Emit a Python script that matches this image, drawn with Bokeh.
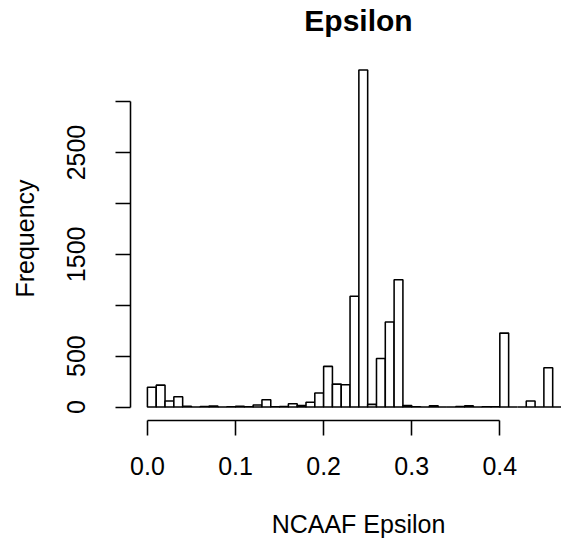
from bokeh.plotting import figure
from bokeh.models import FixedTicker, Range1d, LinearAxis
from bokeh.embed import file_html
from bokeh.resources import INLINE

# ---- data (bin width 0.01) ----
bin_width = 0.01
counts = [195, 215, 60, 100, 8, 0, 5, 10, 0, 3,
          8, 2, 20, 72, 3, 5, 33, 15, 46, 137,
          399, 225, 219, 1088, 3311, 26, 476, 836, 1251, 14,
          2, 0, 13, 0, 0, 4, 11, 0, 3, 2,
          726, 0, 0, 59, 0, 386, 0, 0]
x_ticks = [0.0, 0.1, 0.2, 0.3, 0.4]
x_tick_labels = ["0.0", "0.1", "0.2", "0.3", "0.4"]
y_ticks = [0, 500, 1000, 1500, 2000, 2500, 3000]
y_tick_labels = ["0", "500", "", "1500", "", "2500", ""]
title_text = "Epsilon"
x_label_text = "NCAAF Epsilon"
y_label_text = "Frequency"

lefts = [i * bin_width for i in range(len(counts))]
rights = [(i + 1) * bin_width for i in range(len(counts))]
bottoms = [0] * len(counts)

ymax = max(counts)
ypad = 0.04 * ymax
xmax = rights[-1]
xpad = 0.04 * xmax

FONT = "Liberation Sans"
# R centres titles on its (wider) plotting region; shift ours to match
NBSP = "\u00a0"
EN = "\u2002"

p = figure(width=561, height=540, output_backend="svg", toolbar_location=None,
           x_range=Range1d(-xpad, 0.4700), y_range=Range1d(-ypad, ymax + ypad),
           min_border_left=130, min_border_right=0, min_border_top=56,
           min_border_bottom=118)

p.quad(left=lefts, right=rights, bottom=bottoms, top=counts,
       fill_color="white", line_color="black", line_width=1.56)

p.background_fill_color = "white"
p.border_fill_color = "white"
p.outline_line_color = None
p.grid.visible = False

for ax in (p.xaxis[0], p.yaxis[0]):
    ax.axis_line_width = 1.56
    ax.major_tick_line_width = 1.56
    ax.major_tick_in = 0
    ax.major_tick_out = 15
    ax.minor_tick_line_color = None
    ax.major_label_text_font = FONT
    ax.major_label_text_font_size = "25px"
    ax.major_label_text_color = "black"
    ax.axis_label_text_font = FONT
    ax.axis_label_text_font_size = "25px"
    ax.axis_label_text_font_style = "normal"
    ax.axis_label_text_color = "black"

p.xaxis.bounds = (x_ticks[0], x_ticks[-1])
p.xaxis.ticker = FixedTicker(ticks=x_ticks)
p.xaxis.major_label_overrides = {t: l for t, l in zip(x_ticks, x_tick_labels)}
p.xaxis.major_label_standoff = 21
p.xaxis.axis_label = EN + EN + x_label_text
p.xaxis.axis_label_standoff = 32

p.yaxis.bounds = (y_ticks[0], y_ticks[-1])
p.yaxis.ticker = FixedTicker(ticks=y_ticks)
p.yaxis.major_label_overrides = {t: l for t, l in zip(y_ticks, y_tick_labels)}
p.yaxis.major_label_orientation = "vertical"
p.yaxis.major_label_standoff = 30
p.yaxis.axis_label = y_label_text
p.yaxis.axis_label_standoff = 26

# main title drawn as the label of an empty axis above the frame
top_ax = LinearAxis(ticker=FixedTicker(ticks=[]), axis_line_color=None,
                    major_tick_line_color=None, minor_tick_line_color=None,
                    major_tick_in=0, major_tick_out=0, minor_tick_out=0,
                    major_label_standoff=0,
                    axis_label=NBSP * 3 + title_text, axis_label_standoff=20,
                    axis_label_text_font=FONT, axis_label_text_font_size="30px",
                    axis_label_text_font_style="bold",
                    axis_label_text_color="black")
p.add_layout(top_ax, "above")

open("out.html", "w").write(file_html(p, INLINE))
